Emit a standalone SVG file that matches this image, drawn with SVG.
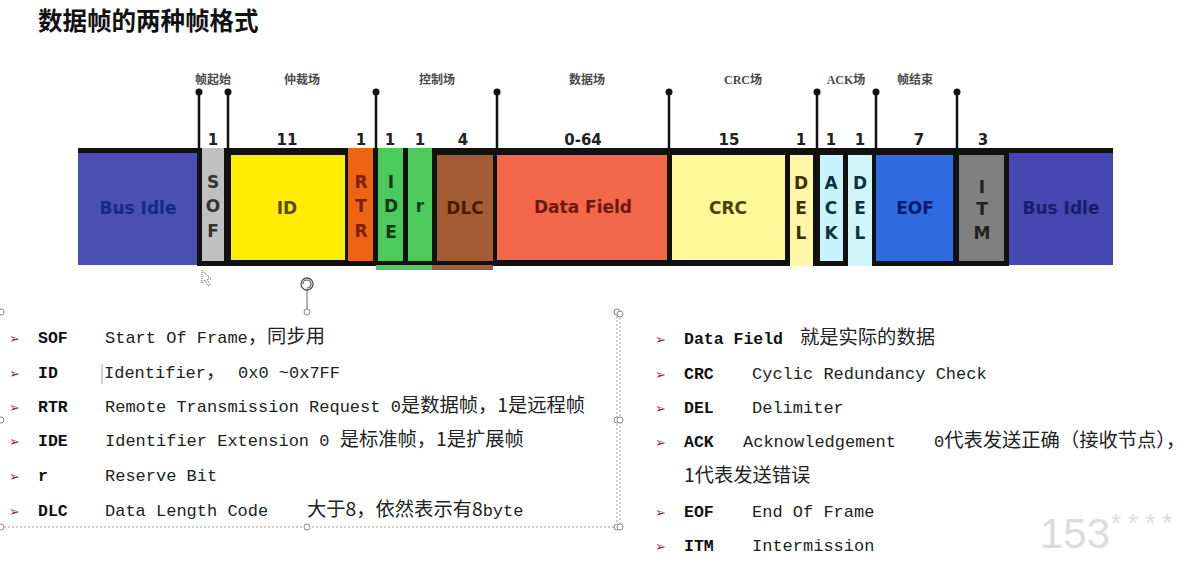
<svg xmlns="http://www.w3.org/2000/svg" width="1186" height="581" viewBox="0 0 1186 581">
<style>
.title{font-family:"Noto Sans CJK SC",sans-serif;font-weight:700;font-size:24.5px;fill:#111}
.sec{font-family:"Liberation Serif","Noto Sans CJK SC",serif;font-weight:700;font-size:12px;fill:#4a4a4a;text-anchor:middle}
.num{font-family:"DejaVu Sans",sans-serif;font-weight:700;font-size:15px;fill:#222;text-anchor:middle}
.cell{font-family:"DejaVu Sans",sans-serif;font-weight:700;font-size:17px;text-anchor:middle}
.stem{stroke:#111;stroke-width:2.5}
.dot{fill:#111}
.term{font-family:"Liberation Mono","Noto Sans CJK SC",monospace;font-weight:700;font-size:16.5px;fill:#111}
.desc{font-family:"Liberation Mono","Noto Sans CJK SC",monospace;font-size:17px;fill:#222}
.cjk{font-family:"Noto Sans CJK SC",sans-serif;font-size:19.3px}
.bul{font-family:"DejaVu Sans",sans-serif;font-size:13px;fill:#8e2a4a}
.dash{stroke:#999;stroke-width:1;stroke-dasharray:2 2;fill:none}
.hnd{fill:#fff;stroke:#888;stroke-width:1}
</style>

<text class="title" x="38" y="30">数据帧的两种帧格式</text>

<g id="section-labels">
<text class="sec" x="213" y="84">帧起始</text>
<text class="sec" x="302" y="84">仲裁场</text>
<text class="sec" x="437" y="84">控制场</text>
<text class="sec" x="587" y="84">数据场</text>
<text class="sec" x="743" y="84">CRC场</text>
<text class="sec" x="846" y="84">ACK场</text>
<text class="sec" x="915" y="84">帧结束</text>
</g>

<g id="connectors">
<line class="stem" x1="199" y1="92" x2="199" y2="150"/><circle class="dot" cx="199" cy="92" r="3.5"/>
<line class="stem" x1="228" y1="92" x2="228" y2="150"/><circle class="dot" cx="228" cy="92" r="3.5"/>
<line class="stem" x1="376" y1="92" x2="376" y2="150"/><circle class="dot" cx="376" cy="92" r="3.5"/>
<line class="stem" x1="497" y1="92" x2="497" y2="150"/><circle class="dot" cx="497" cy="92" r="3.5"/>
<line class="stem" x1="669" y1="92" x2="669" y2="150"/><circle class="dot" cx="669" cy="92" r="3.5"/>
<line class="stem" x1="817" y1="92" x2="817" y2="150"/><circle class="dot" cx="817" cy="92" r="3.5"/>
<line class="stem" x1="876" y1="92" x2="876" y2="150"/><circle class="dot" cx="876" cy="92" r="3.5"/>
<line class="stem" x1="957" y1="92" x2="957" y2="150"/><circle class="dot" cx="957" cy="92" r="3.5"/>
</g>

<g id="bit-counts">
<text class="num" x="213" y="145">1</text>
<text class="num" x="287" y="145">11</text>
<text class="num" x="361" y="145">1</text>
<text class="num" x="390" y="145">1</text>
<text class="num" x="420" y="145">1</text>
<text class="num" x="463" y="145">4</text>
<text class="num" x="583" y="145">0-64</text>
<text class="num" x="729" y="145">15</text>
<text class="num" x="801" y="145">1</text>
<text class="num" x="831" y="145">1</text>
<text class="num" x="860" y="145">1</text>
<text class="num" x="919" y="145">7</text>
<text class="num" x="983" y="145">3</text>
</g>

<g id="frame-bg">
<rect x="197" y="148" width="812" height="118" fill="#111"/>
<rect x="376" y="265" width="56" height="5" fill="#4ccb5c"/>
<rect x="432" y="265" width="61" height="5" fill="#a45c34"/>
</g>

<g id="bus-idle-left">
<rect x="78" y="148" width="121" height="5" fill="#111"/>
<rect x="78" y="153" width="119" height="112" fill="#4a4fb4"/>
<text class="cell" x="138" y="214" fill="#14288a">Bus Idle</text>
</g>
<g id="sof">
<rect x="202" y="148" width="22" height="113" fill="#c0c0c0"/>
<text class="cell" x="213" y="188" fill="#333">S</text>
<text class="cell" x="213" y="212" fill="#333">O</text>
<text class="cell" x="213" y="237" fill="#333">F</text>
</g>
<g id="id">
<rect x="231" y="155" width="114" height="105" fill="#ffee00"/>
<text class="cell" x="287" y="214" fill="#5a4a00">ID</text>
</g>
<g id="rtr">
<rect x="348" y="148" width="25" height="113" fill="#ee6412"/>
<text class="cell" x="361" y="188" fill="#7a2000">R</text>
<text class="cell" x="361" y="212" fill="#7a2000">T</text>
<text class="cell" x="361" y="237" fill="#7a2000">R</text>
</g>
<g id="ide">
<rect x="378" y="148" width="25" height="113" fill="#4ccb5c"/>
<text class="cell" x="391" y="188" fill="#0a3a12">I</text>
<text class="cell" x="391" y="212" fill="#0a3a12">D</text>
<text class="cell" x="391" y="238" fill="#0a3a12">E</text>
</g>
<g id="r">
<rect x="408" y="148" width="24" height="113" fill="#4ccb5c"/>
<text class="cell" x="420" y="212" fill="#0a3a12">r</text>
</g>
<g id="dlc">
<rect x="437" y="155" width="56" height="106" fill="#a45c34"/>
<text class="cell" x="465" y="214" fill="#4a1a00">DLC</text>
</g>
<g id="data-field">
<rect x="497" y="155" width="170" height="105" fill="#f3674b"/>
<text class="cell" x="583" y="213" fill="#6a1a10">Data Field</text>
</g>
<g id="crc">
<rect x="672" y="155" width="113" height="105" fill="#fff899"/>
<text class="cell" x="728" y="214" fill="#4a4000">CRC</text>
</g>
<g id="del1">
<rect x="790" y="155" width="23" height="111" fill="#fff6a6"/>
<text class="cell" x="801" y="189" fill="#3a3000">D</text>
<text class="cell" x="801" y="214" fill="#3a3000">E</text>
<text class="cell" x="801" y="239" fill="#3a3000">L</text>
</g>
<g id="ack">
<rect x="820" y="155" width="23" height="106" fill="#c9f3fa"/>
<text class="cell" x="831" y="189" fill="#0c3440">A</text>
<text class="cell" x="831" y="214" fill="#0c3440">C</text>
<text class="cell" x="831" y="239" fill="#0c3440">K</text>
</g>
<g id="del2">
<rect x="848" y="155" width="24" height="111" fill="#d0f6fb"/>
<text class="cell" x="860" y="189" fill="#0c3440">D</text>
<text class="cell" x="860" y="214" fill="#0c3440">E</text>
<text class="cell" x="860" y="239" fill="#0c3440">L</text>
</g>
<g id="eof">
<rect x="876" y="155" width="77" height="106" fill="#2f6be0"/>
<text class="cell" x="915" y="214" fill="#0a1a66">EOF</text>
</g>
<g id="itm">
<rect x="959" y="155" width="45" height="106" fill="#808080"/>
<text class="cell" x="982" y="193" fill="#222">I</text>
<text class="cell" x="982" y="215" fill="#222">T</text>
<text class="cell" x="982" y="239" fill="#222">M</text>
</g>
<g id="bus-idle-right">
<rect x="1008" y="148" width="105" height="5" fill="#111"/>
<rect x="1009" y="153" width="104" height="112" fill="#4548b2"/>
<text class="cell" x="1061" y="214" fill="#14206e">Bus Idle</text>
</g>

<g id="cursor">
<path d="M202,270 L202,283 L205,280 L208,286 L210,285 L207,279 L211,279 Z" fill="#fff" stroke="#333" stroke-width="0.8" stroke-dasharray="1 1"/>
</g>

<g id="left-box">
<line class="dash" x1="0" y1="527" x2="617" y2="527"/>
<line class="dash" x1="617" y1="312" x2="617" y2="527"/>
<line x1="307" y1="290" x2="307" y2="309" stroke="#666" stroke-width="1"/>
<circle cx="307" cy="284" r="6" fill="#fff" stroke="#555" stroke-width="1.3"/>
<path d="M303,284 A4,4 0 1 1 307,288" fill="none" stroke="#555" stroke-width="1.2"/>
<circle class="hnd" cx="1" cy="312" r="3"/>
<circle class="hnd" cx="307" cy="312" r="3"/>
<circle class="hnd" cx="617" cy="312" r="3"/>
<circle class="hnd" cx="1" cy="420" r="3"/>
<circle class="hnd" cx="617" cy="420" r="3"/>
<circle class="hnd" cx="1" cy="527" r="3"/>
<circle class="hnd" cx="307" cy="527" r="3"/>
<circle class="hnd" cx="617" cy="527" r="3"/>
</g>

<g id="left-list">
<text class="bul" x="9" y="343">➢</text>
<text class="term" x="38" y="343">SOF</text>
<text class="desc" x="105" y="343">Start Of Frame<tspan class="cjk">，同步用</tspan></text>
<text class="bul" x="9" y="378">➢</text>
<text class="term" x="38" y="378">ID</text>
<line x1="102" y1="364" x2="102" y2="384" stroke="#aaa" stroke-width="1"/>
<text class="desc" x="104" y="378">Identifier<tspan class="cjk">，</tspan><tspan x="238">0x0 ~0x7FF</tspan></text>
<text class="bul" x="9" y="412">➢</text>
<text class="term" x="38" y="412">RTR</text>
<text class="desc" x="105" y="412">Remote Transmission Request 0<tspan class="cjk">是数据帧，1是远程帧</tspan></text>
<text class="bul" x="9" y="446">➢</text>
<text class="term" x="38" y="446">IDE</text>
<text class="desc" x="105" y="446">Identifier Extension 0 <tspan class="cjk">是标准帧，1是扩展帧</tspan></text>
<text class="bul" x="9" y="481">➢</text>
<text class="term" x="38" y="481">r</text>
<text class="desc" x="105" y="481">Reserve Bit</text>
<text class="bul" x="9" y="516">➢</text>
<text class="term" x="38" y="516">DLC</text>
<text class="desc" x="105" y="516">Data Length Code<tspan x="307" class="cjk">大于8，依然表示有8</tspan>byte</text>
</g>

<g id="right-box">
<line class="dash" x1="620" y1="314" x2="620" y2="527"/>
<circle class="hnd" cx="620" cy="314" r="3"/>
<circle class="hnd" cx="620" cy="420" r="3"/>
<circle class="hnd" cx="620" cy="527" r="3"/>
</g>

<g id="right-list">
<text class="bul" x="655" y="344">➢</text>
<text class="term" x="684" y="344">Data Field</text>
<text class="desc cjk" x="800" y="344">就是实际的数据</text>
<text class="bul" x="655" y="379">➢</text>
<text class="term" x="684" y="379">CRC</text>
<text class="desc" x="752" y="379">Cyclic Redundancy Check</text>
<text class="bul" x="655" y="413">➢</text>
<text class="term" x="684" y="413">DEL</text>
<text class="desc" x="752" y="413">Delimiter</text>
<text class="bul" x="655" y="447">➢</text>
<text class="term" x="684" y="447">ACK</text>
<text class="desc" x="743" y="447">Acknowledgement<tspan x="934">0</tspan><tspan class="cjk">代表发送正确（接收节点），</tspan></text>
<text class="desc cjk" x="684" y="482">1代表发送错误</text>
<text class="bul" x="655" y="517">➢</text>
<text class="term" x="684" y="517">EOF</text>
<text class="desc" x="752" y="517">End Of Frame</text>
<text class="bul" x="655" y="551">➢</text>
<text class="term" x="684" y="551">ITM</text>
<text class="desc" x="752" y="551">Intermission</text>
</g>

<g id="watermark">
<text x="1040" y="548" font-family="Liberation Sans, sans-serif" font-size="42" fill="#dcdcdc">153</text>
<text x="1111" y="532" font-family="Liberation Sans, sans-serif" font-size="26" letter-spacing="7" fill="#dcdcdc">****</text>
</g>
</svg>
